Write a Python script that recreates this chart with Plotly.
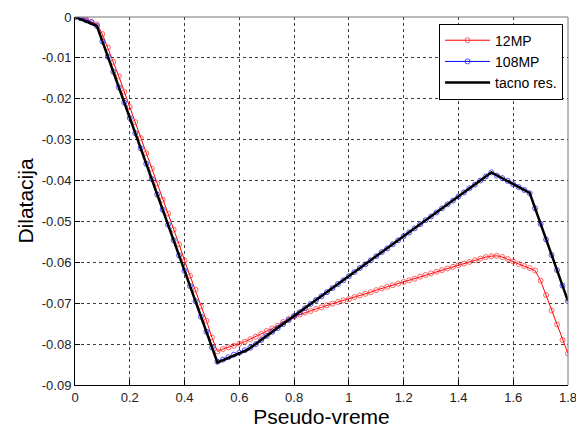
import plotly.graph_objects as go

# pseudo-time samples (step 0.02)
t = [0.00, 0.02, 0.04, 0.06, 0.08, 0.10, 0.12, 0.14, 0.16, 0.18,
     0.20, 0.22, 0.24, 0.26, 0.28, 0.30, 0.32, 0.34, 0.36, 0.38,
     0.40, 0.42, 0.44, 0.46, 0.48, 0.50, 0.52, 0.54, 0.56, 0.58,
     0.60, 0.62, 0.64, 0.66, 0.68, 0.70, 0.72, 0.74, 0.76, 0.78,
     0.80, 0.82, 0.84, 0.86, 0.88, 0.90, 0.92, 0.94, 0.96, 0.98,
     1.00, 1.02, 1.04, 1.06, 1.08, 1.10, 1.12, 1.14, 1.16, 1.18,
     1.20, 1.22, 1.24, 1.26, 1.28, 1.30, 1.32, 1.34, 1.36, 1.38,
     1.40, 1.42, 1.44, 1.46, 1.48, 1.50, 1.52, 1.54, 1.56, 1.58,
     1.60, 1.62, 1.64, 1.66, 1.68, 1.70, 1.72, 1.74, 1.76, 1.78,
     1.80]

mp12 = [0.0, -0.0002, -0.0005, -0.0012, -0.0018, -0.0042, -0.0075, -0.0110, -0.0145, -0.0183,
        -0.0220, -0.0257, -0.0296, -0.0333, -0.0371, -0.0407, -0.0447, -0.0481, -0.0520, -0.0556,
        -0.0596, -0.0633, -0.0667, -0.0708, -0.0743, -0.0784, -0.0818, -0.0812, -0.0808, -0.0804,
        -0.0799, -0.0794, -0.0788, -0.0782, -0.0775, -0.0768, -0.0762, -0.0755, -0.0746, -0.0739,
        -0.0733, -0.0728, -0.0723, -0.0719, -0.0714, -0.0710, -0.0705, -0.0701, -0.0697, -0.0693,
        -0.0690, -0.0685, -0.0681, -0.0677, -0.0673, -0.0668, -0.0664, -0.0660, -0.0656, -0.0652,
        -0.0648, -0.0644, -0.0640, -0.0635, -0.0631, -0.0627, -0.0623, -0.0619, -0.0615, -0.0611,
        -0.0607, -0.0603, -0.0599, -0.0595, -0.0591, -0.0587, -0.0585, -0.0584, -0.0587, -0.0592,
        -0.0598, -0.0604, -0.0609, -0.0614, -0.0620, -0.0645, -0.0680, -0.0718, -0.0752, -0.0790,
        -0.0823]

mp108 = [0.0, -0.0003, -0.0008, -0.0013, -0.0022, -0.0060, -0.0097, -0.0134, -0.0172, -0.0209,
         -0.0247, -0.0284, -0.0321, -0.0359, -0.0396, -0.0434, -0.0471, -0.0508, -0.0546, -0.0583,
         -0.0621, -0.0658, -0.0695, -0.0733, -0.0770, -0.0808, -0.0843, -0.0838, -0.0832, -0.0826,
         -0.0821, -0.0815, -0.0809, -0.0800, -0.0790, -0.0780, -0.0770, -0.0761, -0.0751, -0.0741,
         -0.0731, -0.0722, -0.0712, -0.0702, -0.0692, -0.0683, -0.0673, -0.0663, -0.0653, -0.0644,
         -0.0634, -0.0624, -0.0614, -0.0605, -0.0595, -0.0585, -0.0575, -0.0566, -0.0556, -0.0546,
         -0.0536, -0.0527, -0.0517, -0.0507, -0.0497, -0.0488, -0.0478, -0.0468, -0.0458, -0.0449,
         -0.0439, -0.0429, -0.0419, -0.0410, -0.0400, -0.0390, -0.0380, -0.0388, -0.0394, -0.0401,
         -0.0409, -0.0416, -0.0423, -0.0431, -0.0468, -0.0506, -0.0544, -0.0582, -0.0619, -0.0657,
         -0.0695]

# exact solution breakpoints
t_exact = [0.0, 0.08, 0.52, 0.63, 1.52, 1.66, 1.80]
exact = [0.0, -0.0022, -0.0845, -0.0814, -0.0380, -0.0430, -0.0695]

x_ticks = [0, 0.2, 0.4, 0.6, 0.8, 1.0, 1.2, 1.4, 1.6, 1.8]
x_labels = ['0', '0.2', '0.4', '0.6', '0.8', '1', '1.2', '1.4', '1.6', '1.8']
y_ticks = [0, -0.01, -0.02, -0.03, -0.04, -0.05, -0.06, -0.07, -0.08, -0.09]
y_labels = ['0', '-0.01', '-0.02', '-0.03', '-0.04', '-0.05', '-0.06', '-0.07', '-0.08', '-0.09']

font = 'Liberation Sans, Arial, sans-serif'

trace_12 = go.Scatter(x=t, y=mp12, mode='lines+markers', name='12MP',
                      line=dict(color='rgb(255,0,0)', width=1),
                      marker=dict(symbol='circle-open', size=5,
                                  color='rgba(255,60,60,0.8)', line=dict(width=1)))
trace_108 = go.Scatter(x=t, y=mp108, mode='lines+markers', name='108MP',
                       line=dict(color='rgb(0,0,255)', width=1),
                       marker=dict(symbol='circle-open', size=5,
                                   color='rgba(40,40,255,0.8)', line=dict(width=1)))
trace_exact = go.Scatter(x=t_exact, y=exact, mode='lines', name='tacno res.',
                         line=dict(color='black', width=2.5))

axis_common = dict(showline=True, linecolor='black', linewidth=1, mirror=False,
                   ticks='inside', ticklen=5, tickcolor='black',
                   showgrid=True, gridcolor='rgba(40,40,40,0.9)', gridwidth=1,
                   griddash='3px,3px', zeroline=False, ticklabeloverflow='allow',
                   automargin=False,
                   tickfont=dict(family=font, size=13, color='#222'))

layout = go.Layout(
    width=576, height=430,
    margin=dict(l=75, r=8, t=17, b=45, autoexpand=False),
    paper_bgcolor='white', plot_bgcolor='white',
    xaxis=dict(range=[0, 1.8], tickvals=x_ticks, ticktext=x_labels,
               title=dict(text='Pseudo-vreme', font=dict(family=font, size=21, color='black'),
                          standoff=0),
               **axis_common),
    yaxis=dict(range=[-0.09, 0], tickvals=y_ticks, ticktext=y_labels,
               title=dict(text='Dilatacija', font=dict(family=font, size=21, color='black'),
                          standoff=2),
               **axis_common),
    legend=dict(x=0.99, y=0.982, xanchor='right', yanchor='top',
                bgcolor='white', bordercolor='black', borderwidth=1,
                font=dict(family=font, size=14, color='black'),
                tracegroupgap=0, itemwidth=45),
    shapes=[dict(type='line', xref='paper', yref='paper', x0=0, x1=1, y0=1, y1=1,
                 line=dict(color='#777', width=1)),
            dict(type='line', xref='paper', yref='paper', x0=1, x1=1, y0=0, y1=1,
                 line=dict(color='#777', width=1))],
)

fig = go.Figure(data=[trace_12, trace_108, trace_exact], layout=layout)
fig.write_html('out.html', config={'displayModeBar': False},
               post_script="document.body.style.margin='0';"
                           "document.body.style.overflow='hidden';")
